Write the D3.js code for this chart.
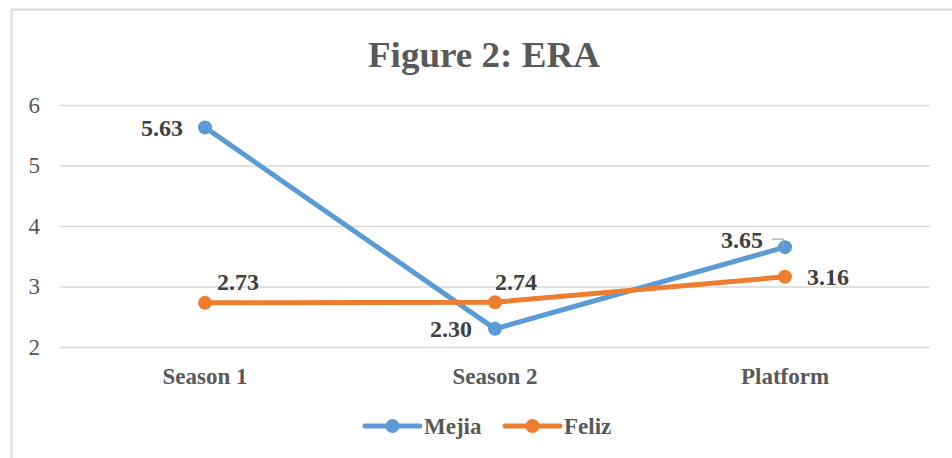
<!DOCTYPE html>
<html>
<head>
<meta charset="utf-8">
<script src="https://cdn.jsdelivr.net/npm/d3@7"></script>
<style>
  body { margin: 0; background: #fff; }
  text { font-family: "Liberation Serif", "Times New Roman", serif; }
</style>
</head>
<body>
<div id="chart"></div>
<script>
// data
const categories = ["Season 1", "Season 2", "Platform"];
const mejia = [5.63, 2.30, 3.65];
const feliz = [2.73, 2.74, 3.16];
const yTicks = [2, 3, 4, 5, 6];
const seriesNames = ["Mejia", "Feliz"];

const colors = { Mejia: "#5B9BD5", Feliz: "#ED7D31" };

// where each data label sits relative to its point
const labelPlace = {
  Mejia: [{ dx: -22, dy: 9, anchor: "end" }, { dx: -23, dy: 8, anchor: "end" }, { dx: -22, dy: 1, anchor: "end" }],
  Feliz: [{ dx: 12, dy: -13, anchor: "start" }, { dx: 0, dy: -12, anchor: "start" }, { dx: 22, dy: 8, anchor: "start" }]
};

let width = 952, height = 458;
let margin = { top: 105, bottom: 111, left: 60, right: 22 };

let svg = d3.select("#chart")
    .append("svg")
    .attr("width", width)
    .attr("height", height);

// outer chart border (runs off the right and bottom edge)
svg.append("rect")
    .attr("x", 11.5).attr("y", 9.5)
    .attr("width", 1000).attr("height", 500)
    .attr("fill", "none")
    .attr("stroke", "#d9d9d9")
    .attr("stroke-width", 2);

svg.append("text")
    .attr("x", 484).attr("y", 67)
    .attr("text-anchor", "middle")
    .attr("font-size", 35)
    .attr("font-weight", "bold")
    .attr("fill", "#595959")
    .attr("transform", "translate(484,0) scale(1.06,1) translate(-484,0)")
    .text("Figure 2: ERA");

let x = d3.scaleBand()
    .domain(categories)
    .range([margin.left, width - margin.right]);

let y = d3.scaleLinear()
    .domain([2, 6])
    .range([height - margin.bottom, margin.top]);

// gridlines + y labels
let yAxis = d3.axisLeft(y)
    .tickValues(yTicks)
    .tickSize(-(width - margin.left - margin.right))
    .tickPadding(20)
    .tickFormat(d3.format("d"));

let gy = svg.append("g")
    .attr("transform", `translate(${margin.left},0)`)
    .call(yAxis);
gy.select(".domain").remove();
gy.selectAll(".tick line").attr("stroke", "#d9d9d9").attr("stroke-width", 1.5);
gy.selectAll(".tick text")
    .attr("fill", "#595959")
    .attr("font-size", 23)
    .attr("font-family", "Liberation Serif, serif");

// category labels
let xAxis = d3.axisBottom(x).tickSize(0).tickPadding(21);
let gx = svg.append("g")
    .attr("transform", `translate(0,${height - margin.bottom})`)
    .call(xAxis);
gx.select(".domain").remove();
gx.selectAll(".tick text")
    .attr("fill", "#595959")
    .attr("font-size", 23)
    .attr("font-weight", "bold")
    .attr("font-family", "Liberation Serif, serif");

let cx = d => x(d) + x.bandwidth() / 2;

let series = [
  { name: "Mejia", values: mejia },
  { name: "Feliz", values: feliz }
];

let line = d3.line()
    .x((d, i) => cx(categories[i]))
    .y(d => y(d));

series.forEach(s => {
  let g = svg.append("g");
  g.append("path")
      .datum(s.values)
      .attr("d", line)
      .attr("fill", "none")
      .attr("stroke", colors[s.name])
      .attr("stroke-width", 5)
      .attr("stroke-linejoin", "round")
      .attr("stroke-linecap", "round");
  g.selectAll("circle")
      .data(s.values)
      .join("circle")
      .attr("cx", (d, i) => cx(categories[i]))
      .attr("cy", d => y(d))
      .attr("r", 7)
      .attr("fill", colors[s.name]);
});

// data labels
series.forEach(s => {
  svg.append("g").selectAll("text")
      .data(s.values)
      .join("text")
      .attr("x", (d, i) => cx(categories[i]) + labelPlace[s.name][i].dx)
      .attr("y", (d, i) => y(d) + labelPlace[s.name][i].dy)
      .attr("text-anchor", (d, i) => labelPlace[s.name][i].anchor)
      .attr("font-size", 24)
      .attr("font-weight", "bold")
      .attr("fill", "#404040")
      .text(d => d.toFixed(2));
});

// leader line for the Platform Mejia label
let px = cx(categories[2]), py = y(mejia[2]);
svg.append("path")
    .attr("d", `M${px - 13},${py - 8} H${px - 2} V${py}`)
    .attr("fill", "none")
    .attr("stroke", "#a6a6a6")
    .attr("stroke-width", 1.2);

// legend
let legend = svg.append("g");
let legendX = [365, 505];
seriesNames.forEach((name, i) => {
  let lg = legend.append("g").attr("transform", `translate(${legendX[i]},426)`);
  lg.append("line")
      .attr("x1", 0).attr("x2", 55)
      .attr("stroke", colors[name])
      .attr("stroke-width", 5)
      .attr("stroke-linecap", "round");
  lg.append("circle").attr("cx", 27.5).attr("r", 7).attr("fill", colors[name]);
  lg.append("text")
      .attr("x", 59).attr("y", 8)
      .attr("font-size", 23)
      .attr("font-weight", "bold")
      .attr("fill", "#595959")
      .text(name);
});
</script>
</body>
</html>
